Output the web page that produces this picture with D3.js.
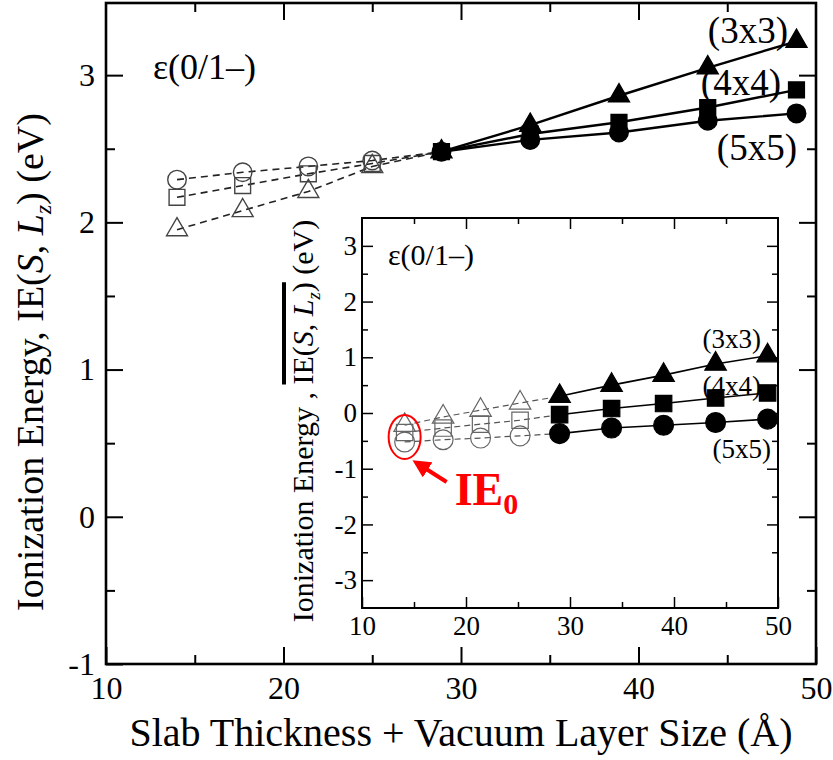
<!DOCTYPE html>
<html>
<head>
<meta charset="utf-8">
<script src="https://cdn.jsdelivr.net/npm/d3@7"></script>
<style>
body { margin: 0; background: #fff; }
svg { display: block; }
text { font-family: "Liberation Serif", "Times New Roman", serif; }
</style>
</head>
<body>
<svg id="chart" width="833" height="760"></svg>
<script>
// supercell sizes
const cells = ["(3x3)", "(4x4)", "(5x5)"];
const markers = [d3.symbolTriangle, d3.symbolSquare, d3.symbolCircle];

// main panel: IE(S, Lz) in eV
const xMain = [14.0, 17.7, 21.4, 25.0, 28.9, 33.9, 38.9, 43.9, 48.9];
const ieMain3x3 = [1.95, 2.08, 2.21, 2.38, 2.48, 2.66, 2.86, 3.05, 3.23];
const ieMain4x4 = [2.17, 2.25, 2.33, 2.40, 2.48, 2.60, 2.68, 2.78, 2.90];
const ieMain5x5 = [2.29, 2.34, 2.38, 2.42, 2.48, 2.56, 2.61, 2.69, 2.74];

// inset: corrected IE
const xInset = [14.1, 17.8, 21.4, 25.2, 29.0, 34.0, 39.0, 44.0, 49.0];
const ieInset3x3 = [-0.22, -0.07, 0.05, 0.18, 0.30, 0.50, 0.68, 0.88, 1.03];
const ieInset4x4 = [-0.35, -0.27, -0.20, -0.13, -0.03, 0.08, 0.17, 0.27, 0.36];
const ieInset5x5 = [-0.52, -0.48, -0.45, -0.41, -0.37, -0.27, -0.22, -0.17, -0.11];

// first index drawn filled / solid
const firstSolid = 4;

const mainXTicks = [10, 20, 30, 40, 50];
const mainXMinor = [15, 25, 35, 45];
const mainYTicks = [-1, 0, 1, 2, 3];
const mainYMinor = [-0.5, 0.5, 1.5, 2.5];
const insetXTicks = [10, 20, 30, 40, 50];
const insetXMinor = [15, 25, 35, 45];
const insetYTicks = [-3, -2, -1, 0, 1, 2, 3];
const insetYMinor = [-2.5, -1.5, -0.5, 0.5, 1.5, 2.5];

const ie0Value = -0.43;

let svg = d3.select("#chart");

let defs = svg.append("defs");
defs.append("marker")
	.attr("id", "redhead")
	.attr("viewBox", "0 0 10 10")
	.attr("refX", 2)
	.attr("refY", 5)
	.attr("markerWidth", 4.5)
	.attr("markerHeight", 4.5)
	.attr("orient", "auto")
	.append("path")
	.attr("d", "M0,0 L10,5 L0,10 z")
	.attr("fill", "#f00");

function addAxes(g, x, y, o) {
	let x0 = x.range()[0], x1 = x.range()[1];
	let y0 = y.range()[0], y1 = y.range()[1];
	let fmt = d => String(d);

	function style(a) {
		a.select(".domain").remove();
		a.attr("font-size", o.font).attr("font-family", null);
		a.selectAll("line").attr("stroke", "#000").attr("stroke-width", o.tickWidth);
		a.selectAll("text").attr("fill", "#000");
	}

	// bottom + top
	g.append("g").attr("transform", `translate(0,${y0})`)
		.call(d3.axisBottom(x).tickValues(o.xTicks).tickSize(-o.major).tickPadding(o.padX).tickFormat(fmt)).call(style);
	g.append("g").attr("transform", `translate(0,${y0})`)
		.call(d3.axisBottom(x).tickValues(o.xMinor).tickSize(-o.minor).tickFormat("")).call(style);
	g.append("g").attr("transform", `translate(0,${y1})`)
		.call(d3.axisTop(x).tickValues(o.xTicks.slice(1, -1)).tickSize(-o.major).tickFormat("")).call(style);
	g.append("g").attr("transform", `translate(0,${y1})`)
		.call(d3.axisTop(x).tickValues(o.xMinor).tickSize(-o.minor).tickFormat("")).call(style);

	// left + right
	g.append("g").attr("transform", `translate(${x0},0)`)
		.call(d3.axisLeft(y).tickValues(o.yTicks).tickSize(-o.major).tickPadding(o.padY).tickFormat(fmt)).call(style);
	g.append("g").attr("transform", `translate(${x0},0)`)
		.call(d3.axisLeft(y).tickValues(o.yMinor).tickSize(-o.minor).tickFormat("")).call(style);
	g.append("g").attr("transform", `translate(${x1},0)`)
		.call(d3.axisRight(y).tickValues(o.yTicks.slice(1)).tickSize(-o.major).tickFormat("")).call(style);
	g.append("g").attr("transform", `translate(${x1},0)`)
		.call(d3.axisRight(y).tickValues(o.yMinor).tickSize(-o.minor).tickFormat("")).call(style);

	g.append("rect")
		.attr("x", x0)
		.attr("y", y1)
		.attr("width", x1 - x0)
		.attr("height", y0 - y1)
		.attr("fill", "none")
		.attr("stroke", "#000")
		.attr("stroke-width", o.frameWidth);
}

function addSeries(g, x, y, xs, series, o) {
	let line = d3.line().x(d => x(d[0])).y(d => y(d[1]));
	series.forEach((vals, k) => {
		let pts = xs.map((v, i) => [v, vals[i]]);
		g.append("path")
			.attr("d", line(pts.slice(0, firstSolid + 1)))
			.attr("fill", "none")
			.attr("stroke", o.dashColor)
			.attr("stroke-width", o.dashWidth)
			.attr("stroke-dasharray", o.dash);
		g.append("path")
			.attr("d", line(pts.slice(firstSolid)))
			.attr("fill", "none")
			.attr("stroke", "#000")
			.attr("stroke-width", o.solidWidth);
	});
	series.forEach((vals, k) => {
		let pts = xs.map((v, i) => [v, vals[i], i]);
		g.selectAll(null)
			.data(pts)
			.enter()
			.append("path")
			.attr("transform", d => `translate(${x(d[0])},${y(d[1])})`)
			.attr("d", d => d3.symbol().type(markers[k]).size(o.sizes[k])())
			.attr("fill", d => d[2] >= firstSolid ? "#000" : "none")
			.attr("stroke", d => d[2] >= firstSolid ? "#000" : o.openColor)
			.attr("stroke-width", o.openWidth);
	});
}

function addYTitle(g, cx, cy, size, text1, overline) {
	let t = g.append("g").attr("transform", `translate(${cx},${cy}) rotate(-90)`);
	let txt = t.append("text")
		.attr("text-anchor", "middle")
		.attr("font-size", size);
	txt.append("tspan").text(text1);
	let ie = txt.append("tspan").text("IE(");
	txt.append("tspan").attr("font-style", "italic").text("S");
	txt.append("tspan").text(", ");
	txt.append("tspan").attr("font-style", "italic").text("L");
	txt.append("tspan").attr("font-style", "italic").attr("font-size", size * 0.62).attr("dy", size * 0.22).text("z");
	let close = txt.append("tspan").attr("dy", -size * 0.22).text(")");
	txt.append("tspan").text(" (eV)");
	if (overline) {
		let a = ie.node().getBBox();
		let b = close.node().getBBox();
		t.append("line")
			.attr("x1", a.x)
			.attr("x2", b.x + b.width)
			.attr("y1", a.y - 2)
			.attr("y2", a.y - 2)
			.attr("stroke", "#000")
			.attr("stroke-width", 4);
	}
}

// ---------- main panel ----------
let xM = d3.scaleLinear().domain([10, 50]).range([106, 816]);
let yM = d3.scaleLinear().domain([-1, 3.49]).range([664, 3]);
let gMain = svg.append("g");

let mainSeries = [ieMain3x3, ieMain4x4, ieMain5x5];

gMain.append("text")
	.attr("x", 153)
	.attr("y", 79)
	.attr("font-size", 36)
	.text("ε(0/1–)");

let mainLabelPos = [[788, 43], [781, 95], [797, 160]];
cells.forEach((c, k) => {
	gMain.append("text")
		.attr("x", mainLabelPos[k][0])
		.attr("y", mainLabelPos[k][1])
		.attr("text-anchor", "end")
		.attr("font-size", 37)
		.text(c);
});

addSeries(gMain, xM, yM, xMain, mainSeries, {
	dashColor: "#222", dashWidth: 1.6, dash: "7,5", solidWidth: 2.4,
	openColor: "#444", openWidth: 1.4, sizes: [190, 250, 270]
});

addAxes(gMain, xM, yM, {
	xTicks: mainXTicks, xMinor: mainXMinor, yTicks: mainYTicks, yMinor: mainYMinor,
	major: 17, minor: 9, font: 32, padX: 12, padY: 11, tickWidth: 2, frameWidth: 2.6
});

gMain.append("text")
	.attr("x", 461)
	.attr("y", 746)
	.attr("text-anchor", "middle")
	.attr("font-size", 40)
	.text("Slab Thickness + Vacuum Layer Size (Å)");

addYTitle(gMain, 43, 362, 38, "Ionization Energy, ", false);

// ---------- inset ----------
let xI = d3.scaleLinear().domain([10, 50]).range([362, 778]);
let yI = d3.scaleLinear().domain([-3.5, 3.5]).range([608, 218]);
let gIn = svg.append("g");

gIn.append("rect")
	.attr("x", xI.range()[0])
	.attr("y", yI.range()[1])
	.attr("width", xI.range()[1] - xI.range()[0])
	.attr("height", yI.range()[0] - yI.range()[1])
	.attr("fill", "#fff");

gIn.append("text")
	.attr("x", 388)
	.attr("y", 265)
	.attr("font-size", 30)
	.text("ε(0/1–)");

let insetLabelPos = [[761, 348], [761, 395], [771, 458]];
cells.forEach((c, k) => {
	gIn.append("text")
		.attr("x", insetLabelPos[k][0])
		.attr("y", insetLabelPos[k][1])
		.attr("text-anchor", "end")
		.attr("font-size", 27)
		.text(c);
});

addSeries(gIn, xI, yI, xInset, [ieInset3x3, ieInset4x4, ieInset5x5], {
	dashColor: "#555", dashWidth: 1.2, dash: "6,4", solidWidth: 1.6,
	openColor: "#666", openWidth: 1.2, sizes: [200, 270, 310]
});

addAxes(gIn, xI, yI, {
	xTicks: insetXTicks, xMinor: insetXMinor, yTicks: insetYTicks, yMinor: insetYMinor,
	major: 11, minor: 6, font: 27, padX: 8, padY: 5, tickWidth: 1.5, frameWidth: 2
});

addYTitle(gIn, 313, 421, 30, "Ionization Energy , ", true);

// IE0 annotation
let ex = xI(xInset[0]), ey = yI(ie0Value);
gIn.append("ellipse")
	.attr("cx", ex)
	.attr("cy", ey)
	.attr("rx", 16)
	.attr("ry", 22)
	.attr("fill", "none")
	.attr("stroke", "#f00")
	.attr("stroke-width", 2);

gIn.append("line")
	.attr("x1", ex + 42)
	.attr("y1", ey + 45)
	.attr("x2", ex + 20)
	.attr("y2", ey + 31)
	.attr("stroke", "#f00")
	.attr("stroke-width", 4)
	.attr("marker-end", "url(#redhead)");

let ieText = gIn.append("text")
	.attr("x", ex + 50)
	.attr("y", ey + 68)
	.attr("font-size", 46)
	.attr("font-weight", "bold")
	.attr("fill", "#f00")
	.text("IE");
ieText.append("tspan")
	.attr("font-size", 30)
	.attr("dy", 9)
	.text("0");
</script>
</body>
</html>
